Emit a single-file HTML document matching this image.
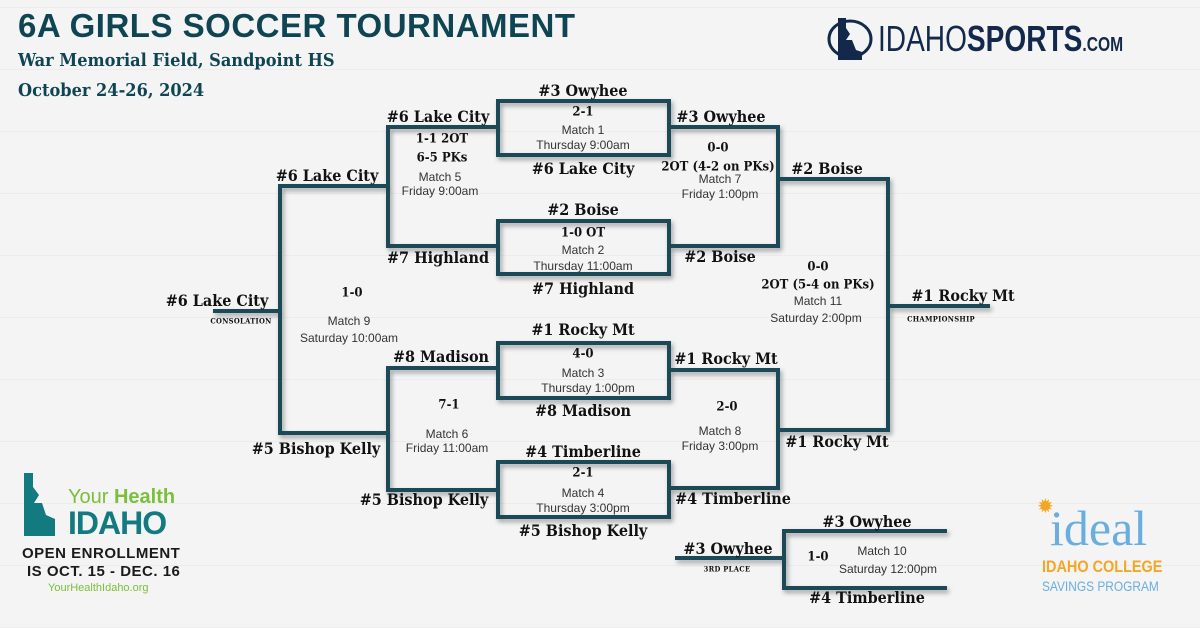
<!DOCTYPE html>
<html><head><meta charset="utf-8"><style>
*{margin:0;padding:0;box-sizing:border-box}
body{width:1200px;height:628px;overflow:hidden;background:#f3f3f3;position:relative;font-family:"Liberation Sans",sans-serif}
.bg{position:absolute;inset:0;background:
repeating-linear-gradient(0deg,#ececec 0 1px,transparent 1px 62px),#f4f4f4}
.t{position:absolute;white-space:nowrap;transform:translate(-50%,-50%);line-height:1}
.n{font-family:"DejaVu Serif Condensed","DejaVu Serif",serif;font-weight:bold;font-size:16px;color:#111}
.s{font-family:"DejaVu Serif Condensed","DejaVu Serif",serif;font-weight:bold;font-size:13px;color:#111}
.m{font-size:12px;color:#333}
.x{font-family:"DejaVu Serif Condensed","DejaVu Serif",serif;font-weight:bold;font-size:7.5px;color:#111;letter-spacing:.3px}
svg{position:absolute;left:0;top:0}
</style></head><body>
<div class="bg"></div>
<div style="position:absolute;left:18px;top:7px;font-weight:900;font-size:33px;color:#0f4553;letter-spacing:.5px">6A GIRLS SOCCER TOURNAMENT</div>
<div style="position:absolute;left:18px;top:50px;font-family:'DejaVu Serif Condensed','DejaVu Serif',serif;font-weight:bold;font-size:18px;color:#0f4553">War Memorial Field, Sandpoint HS</div>
<div style="position:absolute;left:18px;top:80px;font-family:'DejaVu Serif Condensed','DejaVu Serif',serif;font-weight:bold;font-size:18px;color:#0f4553">October 24-26, 2024</div>

<svg width="1200" height="628">
<defs><filter id="sh" x="-10%" y="-10%" width="120%" height="120%"><feDropShadow dx="2" dy="3" stdDeviation="2.5" flood-color="#000" flood-opacity=".35"/></filter></defs>
<g fill="none" stroke="#1b4858" stroke-width="4" filter="url(#sh)">
<rect x="498" y="101" width="171" height="54"/>
<rect x="498" y="221" width="171" height="53"/>
<rect x="498" y="343" width="171" height="55"/>
<rect x="498" y="462" width="171" height="55"/>
<polyline points="498,127 388,127 388,246 498,246"/>
<polyline points="669,127 778,127 778,246 669,246"/>
<polyline points="498,368 388,368 388,490 498,490"/>
<polyline points="669,370 778,370 778,488 669,488"/>
<polyline points="388,186 280,186 280,433 388,433"/>
<line x1="213" y1="311" x2="280" y2="311"/>
<polyline points="778,179 888,179 888,430 778,430"/>
<line x1="888" y1="306" x2="990" y2="306"/>
<polyline points="947,531 784,531 784,588 947,588"/>
<line x1="675" y1="558" x2="784" y2="558"/>
</g>
<g>
<path d="M838 18 h8 v10 l4 6 -4 6 6 0 4 10 6 2 v8 h-24z" fill="#13294b"/>
<ellipse cx="850" cy="39" rx="21" ry="18" fill="none" stroke="#13294b" stroke-width="3"/>
</g>
<path d="M24 473 h9 v14 l6 8 -5 8 8 0 4 12 9 4 v17 h-31z" fill="#137a80"/>
</svg>
<div style="position:absolute;left:878px;top:18px;font-size:36px;color:#13294b;transform:scaleX(.78);transform-origin:left;white-space:nowrap"><span>IDAHO</span><b>SPORTS</b><span style="font-size:20px;font-weight:bold">.COM</span></div>

<div style="position:absolute;left:68px;top:486px;font-size:20px;color:#7bbf3a">Your <b>Health</b></div>
<div style="position:absolute;left:68px;top:505px;font-size:32px;font-weight:bold;color:#137a80;letter-spacing:-1px">IDAHO</div>
<div style="position:absolute;left:22px;top:545px;font-size:15px;font-weight:900;color:#1a1a1a;letter-spacing:.5px">OPEN ENROLLMENT</div>
<div style="position:absolute;left:27px;top:563px;font-size:15px;font-weight:900;color:#1a1a1a;letter-spacing:.5px">IS OCT. 15 - DEC. 16</div>
<div style="position:absolute;left:48px;top:582px;font-size:11px;color:#7bbf3a">YourHealthIdaho.org</div>

<div style="position:absolute;left:1050px;top:503px;font-family:'Liberation Serif',serif;font-size:50px;color:#6aaee0;line-height:1">ideal</div>
<div style="position:absolute;left:1037px;top:494px;color:#f5a623;font-size:20px">✹</div>
<div style="position:absolute;left:1042px;top:557px;font-size:17px;font-weight:bold;color:#f5a623;transform:scaleX(.85);transform-origin:left;white-space:nowrap">IDAHO COLLEGE</div>
<div style="position:absolute;left:1042px;top:578px;font-size:14px;color:#6aaee0;transform:scaleX(.85);transform-origin:left;white-space:nowrap">SAVINGS PROGRAM</div>

<div class="t n" style="left:583px;top:91px">#3 Owyhee</div>
<div class="t n" style="left:438px;top:117px">#6 Lake City</div>
<div class="t n" style="left:721px;top:117px">#3 Owyhee</div>
<div class="t s" style="left:583px;top:112px">2-1</div>
<div class="t m" style="left:583px;top:130px">Match 1</div>
<div class="t m" style="left:583px;top:145px">Thursday 9:00am</div>
<div class="t n" style="left:583px;top:169px">#6 Lake City</div>
<div class="t s" style="left:442px;top:139px">1-1 2OT</div>
<div class="t s" style="left:442px;top:158px">6-5 PKs</div>
<div class="t m" style="left:440px;top:177px">Match 5</div>
<div class="t m" style="left:440px;top:191px">Friday 9:00am</div>
<div class="t s" style="left:718px;top:148px">0-0</div>
<div class="t s" style="left:718px;top:167px">2OT (4-2 on PKs)</div>
<div class="t m" style="left:720px;top:179px">Match 7</div>
<div class="t m" style="left:720px;top:194px">Friday 1:00pm</div>
<div class="t n" style="left:827px;top:169px">#2 Boise</div>
<div class="t n" style="left:327px;top:176px">#6 Lake City</div>
<div class="t n" style="left:583px;top:210px">#2 Boise</div>
<div class="t s" style="left:583px;top:233px">1-0 OT</div>
<div class="t m" style="left:583px;top:250px">Match 2</div>
<div class="t m" style="left:583px;top:266px">Thursday 11:00am</div>
<div class="t n" style="left:438px;top:258px">#7 Highland</div>
<div class="t n" style="left:720px;top:257px">#2 Boise</div>
<div class="t n" style="left:583px;top:289px">#7 Highland</div>
<div class="t s" style="left:818px;top:267px">0-0</div>
<div class="t s" style="left:818px;top:285px">2OT (5-4 on PKs)</div>
<div class="t m" style="left:818px;top:301px">Match 11</div>
<div class="t m" style="left:816px;top:318px">Saturday 2:00pm</div>
<div class="t n" style="left:963px;top:296px">#1 Rocky Mt</div>
<div class="t x" style="left:941px;top:319px">CHAMPIONSHIP</div>
<div class="t n" style="left:217px;top:301px">#6 Lake City</div>
<div class="t x" style="left:241px;top:321px">CONSOLATION</div>
<div class="t s" style="left:352px;top:293px">1-0</div>
<div class="t m" style="left:349px;top:321px">Match 9</div>
<div class="t m" style="left:349px;top:338px">Saturday 10:00am</div>
<div class="t n" style="left:583px;top:330px">#1 Rocky Mt</div>
<div class="t n" style="left:441px;top:357px">#8 Madison</div>
<div class="t n" style="left:726px;top:359px">#1 Rocky Mt</div>
<div class="t s" style="left:583px;top:354px">4-0</div>
<div class="t m" style="left:583px;top:373px">Match 3</div>
<div class="t m" style="left:588px;top:388px">Thursday 1:00pm</div>
<div class="t n" style="left:583px;top:411px">#8 Madison</div>
<div class="t s" style="left:449px;top:405px">7-1</div>
<div class="t m" style="left:447px;top:434px">Match 6</div>
<div class="t m" style="left:447px;top:448px">Friday 11:00am</div>
<div class="t s" style="left:727px;top:407px">2-0</div>
<div class="t m" style="left:720px;top:431px">Match 8</div>
<div class="t m" style="left:720px;top:446px">Friday 3:00pm</div>
<div class="t n" style="left:837px;top:442px">#1 Rocky Mt</div>
<div class="t n" style="left:316px;top:449px">#5 Bishop Kelly</div>
<div class="t n" style="left:583px;top:452px">#4 Timberline</div>
<div class="t s" style="left:583px;top:473px">2-1</div>
<div class="t m" style="left:583px;top:493px">Match 4</div>
<div class="t m" style="left:583px;top:508px">Thursday 3:00pm</div>
<div class="t n" style="left:424px;top:500px">#5 Bishop Kelly</div>
<div class="t n" style="left:733px;top:499px">#4 Timberline</div>
<div class="t n" style="left:583px;top:531px">#5 Bishop Kelly</div>
<div class="t n" style="left:867px;top:522px">#3 Owyhee</div>
<div class="t n" style="left:728px;top:549px">#3 Owyhee</div>
<div class="t x" style="left:727px;top:569px">3RD PLACE</div>
<div class="t s" style="left:818px;top:557px">1-0</div>
<div class="t m" style="left:882px;top:551px">Match 10</div>
<div class="t m" style="left:888px;top:569px">Saturday 12:00pm</div>
<div class="t n" style="left:867px;top:598px">#4 Timberline</div>
</body></html>
